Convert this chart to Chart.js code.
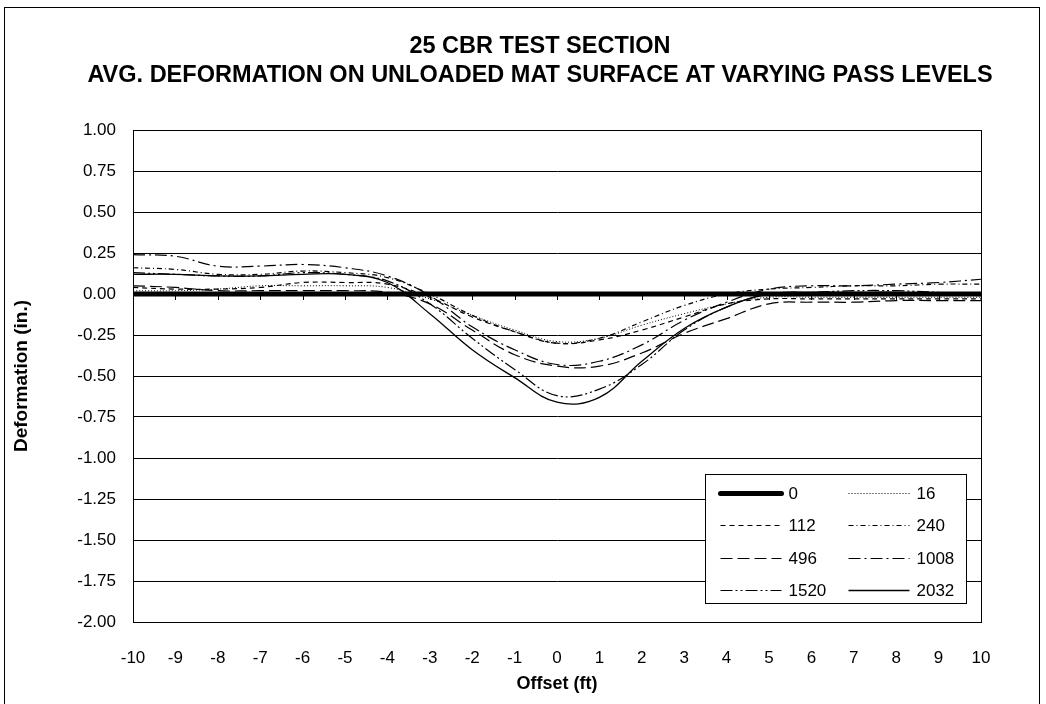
<!DOCTYPE html>
<html>
<head>
<meta charset="utf-8">
<script src="https://cdn.jsdelivr.net/npm/chart.js@4.4.1/dist/chart.umd.min.js"></script>
<style>
  html, body { margin: 0; padding: 0; background: #fff; }
  #wrap { width: 1046px; height: 704px; }
</style>
</head>
<body>
<div id="wrap"><canvas id="chart" width="1046" height="704"></canvas></div>
<script>
// offsets across the mat (ft)
const offsets = [-10, -9, -8, -7, -6, -5, -4, -3, -2, -1, 0, 1, 2, 3, 4, 5, 6, 7, 8, 9, 10];

// pass levels
const passLevels = ["0", "16", "112", "240", "496", "1008", "1520", "2032"];

// average deformation (in.) per pass level
const def0    = [0, 0, 0, 0, 0, 0, 0, 0, 0, 0, 0, 0, 0, 0, 0, 0, 0, 0, 0, 0, 0];
const def16   = [0.02, 0.02, 0.03, 0.05, 0.05, 0.05, 0.04, -0.03, -0.13, -0.22, -0.29, -0.27, -0.19, -0.12, -0.06, -0.02, -0.02, -0.02, -0.02, -0.02, -0.02];
const def112  = [0.04, 0.03, 0.03, 0.04, 0.07, 0.07, 0.06, -0.02, -0.14, -0.23, -0.30, -0.28, -0.22, -0.14, -0.06, -0.03, -0.03, -0.03, -0.03, -0.03, -0.03];
const def240  = [0.16, 0.15, 0.12, 0.12, 0.14, 0.13, 0.10, 0.00, -0.13, -0.23, -0.30, -0.27, -0.17, -0.07, 0.00, 0.03, 0.04, 0.05, 0.05, 0.06, 0.06];
const def496  = [0.05, 0.04, 0.02, 0.02, 0.02, 0.02, 0.01, -0.06, -0.22, -0.37, -0.44, -0.44, -0.36, -0.24, -0.15, -0.06, -0.05, -0.05, -0.04, -0.04, -0.04];
const def1008 = [0.24, 0.23, 0.17, 0.17, 0.18, 0.16, 0.11, -0.01, -0.20, -0.34, -0.43, -0.41, -0.31, -0.16, -0.05, 0.03, 0.05, 0.05, 0.06, 0.07, 0.09];
const def1520 = [0.13, 0.12, 0.11, 0.11, 0.13, 0.12, 0.08, -0.06, -0.27, -0.46, -0.62, -0.58, -0.43, -0.22, -0.08, 0.00, 0.01, 0.02, 0.02, 0.01, 0.00];
const def2032 = [0.12, 0.12, 0.11, 0.11, 0.12, 0.12, 0.07, -0.12, -0.34, -0.51, -0.66, -0.63, -0.41, -0.21, -0.08, 0.00, 0.01, 0.01, 0.01, 0.00, -0.01];

const allSeries = [def0, def16, def112, def240, def496, def1008, def1520, def2032];

const titleLines = ["25 CBR TEST SECTION", "AVG. DEFORMATION ON UNLOADED MAT SURFACE AT VARYING PASS LEVELS"];

// line look for each pass level
const widths = [5, 1, 1.2, 1.2, 1.2, 1.2, 1.2, 1.3];
const dashes = [[], [1, 2], [5, 4], [5, 3, 1, 3], [12, 5], [12, 4, 2, 4], [12, 3, 2, 3, 2, 3], []];

const FONT = "'Liberation Sans', Arial, sans-serif";

const datasets = passLevels.map((lbl, i) => ({
  label: lbl,
  data: offsets.map((x, k) => ({ x: x, y: allSeries[i][k] })),
  borderColor: "#000",
  borderWidth: widths[i],
  borderDash: dashes[i],
  borderCapStyle: i === 0 ? "round" : "butt",
  pointRadius: 0,
  tension: 0.4,
  fill: false,
}));

// frame around the whole figure, title, plot box, ticks on zero line
const framePlugin = {
  id: "frame",
  beforeDraw(chart) {
    const ctx = chart.ctx;
    ctx.save();
    ctx.fillStyle = "#fff";
    ctx.fillRect(0, 0, chart.width, chart.height);
    ctx.strokeStyle = "#000";
    ctx.lineWidth = 1;
    ctx.strokeRect(4.5, 7.5, 1035, 800);
    // title, centred on the figure frame
    ctx.fillStyle = "#000";
    ctx.font = "bold 23.5px " + FONT;
    ctx.textAlign = "center";
    ctx.textBaseline = "middle";
    titleLines.forEach((t, i) => ctx.fillText(t, 540, 47 + i * 29));
    ctx.restore();
  },
  beforeDatasetsDraw(chart) {
    const ctx = chart.ctx;
    const a = chart.chartArea;
    const xs = chart.scales.x;
    const ys = chart.scales.y;
    ctx.save();
    ctx.strokeStyle = "#000";
    ctx.lineWidth = 1;
    ctx.strokeRect(Math.round(a.left) + 0.5, Math.round(a.top) + 0.5, Math.round(a.right - a.left), Math.round(a.bottom - a.top));
    const y0 = Math.round(ys.getPixelForValue(0));
    ctx.beginPath();
    offsets.forEach((v) => {
      const px = Math.round(xs.getPixelForValue(v)) + 0.5;
      ctx.moveTo(px, y0);
      ctx.lineTo(px, y0 + 6);
    });
    ctx.stroke();
    ctx.restore();
  },
};

// legend box inside the plot, two columns
const legendPlugin = {
  id: "boxLegend",
  afterDatasetsDraw(chart) {
    const ctx = chart.ctx;
    const a = chart.chartArea;
    const boxW = 261, boxH = 129;
    const bx = Math.round(a.right - 15 - boxW) + 0.5;
    const by = Math.round(a.bottom - 19 - boxH) + 0.5;
    ctx.save();
    ctx.fillStyle = "#fff";
    ctx.fillRect(bx, by, boxW, boxH);
    ctx.strokeStyle = "#000";
    ctx.lineWidth = 1;
    ctx.strokeRect(bx, by, boxW, boxH);
    ctx.font = "17px " + FONT;
    ctx.textBaseline = "middle";
    ctx.fillStyle = "#000";
    chart.data.datasets.forEach((ds, i) => {
      const row = Math.floor(i / 2), col = i % 2;
      const lx = bx + 15 + col * 128;
      const ly = Math.round(by + 18 + row * 32.5) + 0.5;
      ctx.save();
      ctx.strokeStyle = "#000";
      ctx.lineWidth = ds.borderWidth;
      ctx.lineCap = ds.borderCapStyle;
      ctx.setLineDash(ds.borderDash);
      ctx.beginPath();
      ctx.moveTo(lx, ly);
      ctx.lineTo(lx + 61, ly);
      ctx.stroke();
      ctx.restore();
      ctx.fillText(ds.label, lx + 68, ly + 1);
    });
    ctx.restore();
  },
};

new Chart(document.getElementById("chart"), {
  type: "line",
  data: { datasets },
  plugins: [framePlugin, legendPlugin],
  options: {
    responsive: false,
    animation: false,
    devicePixelRatio: 1,
    layout: { padding: { left: 10, right: 65, top: 130, bottom: 6 } },
    plugins: {
      legend: { display: false },
      tooltip: { enabled: false },
      title: { display: false },
    },
    scales: {
      x: {
        type: "linear",
        min: -10,
        max: 10,
        grid: { display: false },
        border: { display: true, color: "#000", width: 1 },
        ticks: { stepSize: 1, color: "#000", padding: 18, font: { family: FONT, size: 17 } },
        title: { display: true, text: "Offset (ft)", color: "#000", font: { family: FONT, size: 18, weight: "bold" }, padding: { top: 4, bottom: 3 } },
        afterFit: (s) => { s.height = 76; },
      },
      y: {
        min: -2,
        max: 1,
        grid: { color: "#000", lineWidth: 1, drawTicks: false },
        border: { display: true, color: "#000", width: 1 },
        ticks: {
          stepSize: 0.25,
          color: "#000",
          padding: 17,
          font: { family: FONT, size: 17 },
          callback: (v) => Number(v).toFixed(2),
        },
        title: { display: true, text: "Deformation (in.)", color: "#000", font: { family: FONT, size: 19, weight: "bold" }, padding: { top: 0, bottom: 4 } },
        afterFit: (s) => { s.width = 123; },
      },
    },
  },
});
</script>
</body>
</html>
